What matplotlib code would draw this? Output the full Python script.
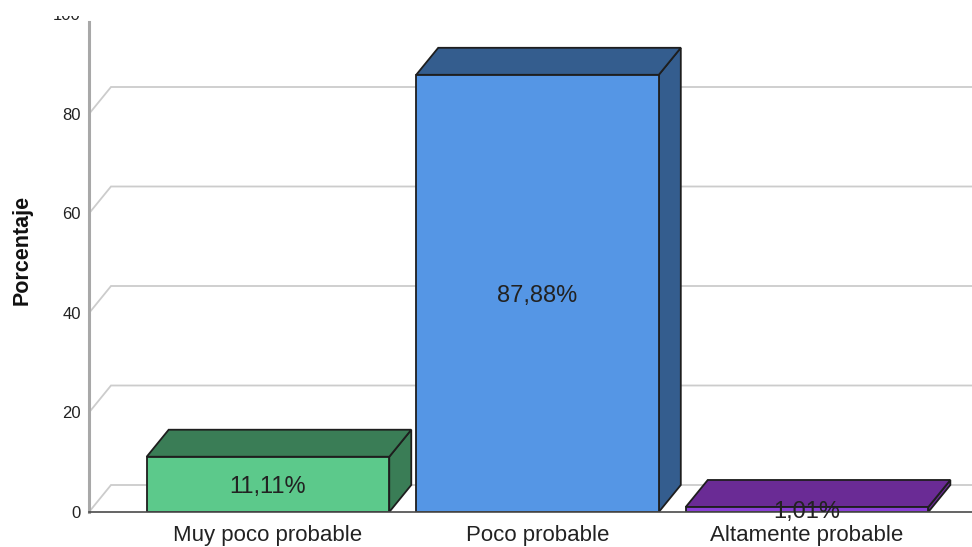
import matplotlib
matplotlib.use("Agg")
import matplotlib.pyplot as plt
from matplotlib.patches import Rectangle, Polygon

categories = ["Muy poco probable", "Poco probable", "Altamente probable"]
values = [11.11, 87.88, 1.01]
value_labels = ["11,11%", "87,88%", "1,01%"]
yticks = [0, 20, 40, 60, 80, 100]
ylabel = "Porcentaje"

front_colors = ["#5CC98B", "#5596E5", "#8A3FD6"]
dark_colors = ["#3A7D56", "#345D8E", "#6A2B95"]

plt.rcParams['font.family'] = ['Liberation Sans', 'DejaVu Sans']

W, H, DPI = 972, 547, 100
fig = plt.figure(figsize=(W / DPI, H / DPI), dpi=DPI)
left_px, base_px, top_px = 89, 512, 14.5
ax = fig.add_axes([left_px / W, (H - base_px) / H, (W - left_px) / W, (base_px - top_px) / H])

xmin, xmax = -0.664, 2.612
ax.set_xlim(xmin, xmax)
ax.set_ylim(0, 100)

# depth offsets in data units (22 px right, 27 px up)
px_per_x = (W - left_px) / (xmax - xmin)
px_per_y = (base_px - top_px) / 100
dx = 22 / px_per_x
dy = 27 / px_per_y
bw = 0.9

grid_c = "#cccccc"
for v in yticks:
    ax.plot([xmin, xmin + dx, xmax], [v, v + dy, v + dy], color=grid_c, lw=1.3,
            zorder=1, clip_on=True, solid_joinstyle='miter')

edge = "#1e1e1e"
for i, (val, fc, dc) in enumerate(zip(values, front_colors, dark_colors)):
    x0, x1 = i - bw / 2, i + bw / 2
    side = Polygon([(x1, 0), (x1 + dx, dy), (x1 + dx, val + dy), (x1, val)],
                   closed=True, facecolor=dc, edgecolor=edge, lw=1.3, zorder=3,
                   joinstyle='miter')
    top = Polygon([(x0, val), (x1, val), (x1 + dx, val + dy), (x0 + dx, val + dy)],
                  closed=True, facecolor=dc, edgecolor=edge, lw=1.3, zorder=3,
                  joinstyle='miter')
    front = Rectangle((x0, 0), bw, val, facecolor=fc, edgecolor=edge, lw=1.3,
                      zorder=4, joinstyle='miter')
    ax.add_patch(side)
    ax.add_patch(top)
    ax.add_patch(front)
    ax.text(i, val / 2, value_labels[i], ha='center', va='center_baseline', fontsize=17,
            color="#222222", zorder=6)

for s in ['top', 'right']:
    ax.spines[s].set_visible(False)
ax.spines['left'].set_color("#a8a8a8")
ax.spines['left'].set_linewidth(2.2)
ax.spines['left'].set_bounds(0, 98.4)
ax.spines['bottom'].set_color("#4a4a4a")
ax.spines['bottom'].set_linewidth(1.2)
ax.spines['bottom'].set_zorder(5)

ax.set_yticks(yticks)
ax.set_yticklabels([str(t) for t in yticks])
ax.set_xticks(range(len(categories)))
ax.set_xticklabels(categories)
ax.tick_params(axis='y', length=0, pad=6, labelsize=12, labelcolor="#222222")
ax.tick_params(axis='x', length=0, pad=9, labelsize=16, labelcolor="#222222")
ax.set_ylabel(ylabel, fontsize=15.5, fontweight='bold', color="#111111")
ax.yaxis.set_label_coords((33 - left_px) / (W - left_px), (base_px - 250) / (base_px - top_px))

# emulate the cropped top edge of the original image
fig.patches.append(Rectangle((0, 1 - 16 / H), 0.12, 16 / H, transform=fig.transFigure,
                             facecolor='white', edgecolor='none', zorder=20))

fig.savefig("out.png", dpi=DPI, facecolor='white')
